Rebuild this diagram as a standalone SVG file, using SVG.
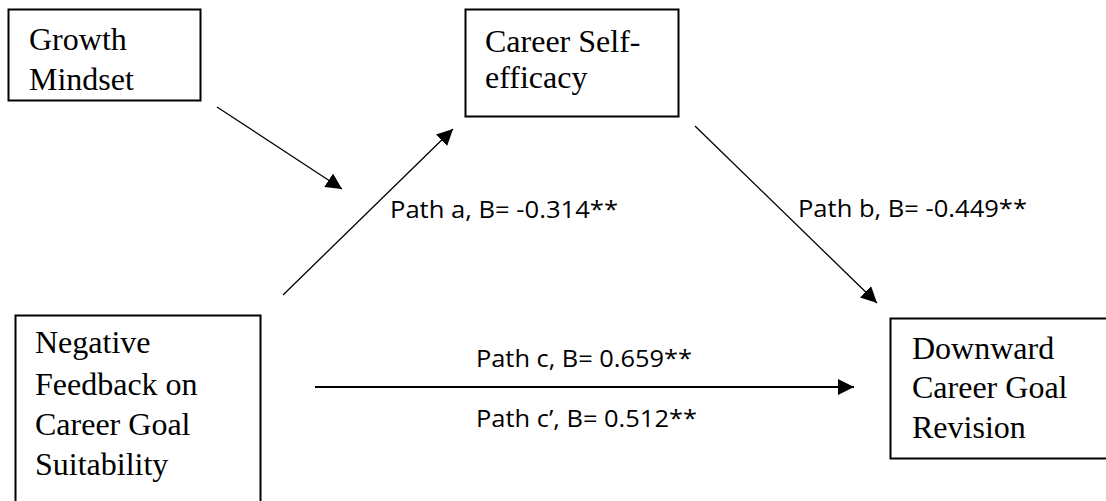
<svg xmlns="http://www.w3.org/2000/svg" width="1106" height="501" viewBox="0 0 1106 501">
<defs>
<style>
.box{fill:#fff;stroke:#000;stroke-width:2}
.t{font-family:"Liberation Serif","Times New Roman",serif;font-size:32px;fill:#000}
.l{font-family:"Open Sans","Noto Sans",sans-serif;font-size:23.5px;fill:#000}
.c{stroke:#000;stroke-width:1.3;fill:none;marker-end:url(#ah)}
</style>
<marker id="ah" viewBox="0 0 10 10" refX="10" refY="5" markerWidth="16" markerHeight="16" markerUnits="userSpaceOnUse" orient="auto">
<path d="M0,0 L10,5 L0,10 z" fill="#000"/>
</marker>
</defs>
<rect width="1106" height="501" fill="#fff"/>
<g id="growth">
<rect class="box" x="8.5" y="9.5" width="192" height="91"/>
<text class="t" x="29" y="50">Growth</text>
<text class="t" x="29" y="90">Mindset</text>
</g>
<g id="selfeff">
<rect class="box" x="465.5" y="9.5" width="213" height="107"/>
<text class="t" x="485" y="52">Career Self-</text>
<text class="t" x="485" y="88">efficacy</text>
</g>
<g id="negfeedback">
<rect class="box" x="15.5" y="315.5" width="245" height="200"/>
<text class="t" x="35" y="353">Negative</text>
<text class="t" x="35" y="395">Feedback on</text>
<text class="t" x="35" y="435">Career Goal</text>
<text class="t" x="35" y="475">Suitability</text>
</g>
<g id="downward">
<rect class="box" x="890.5" y="318.5" width="230" height="140"/>
<text class="t" x="912" y="359">Downward</text>
<text class="t" x="912" y="398">Career Goal</text>
<text class="t" x="912" y="438">Revision</text>
</g>
<g id="connectors">
<line class="c" x1="217" y1="107" x2="342" y2="189"/>
<line class="c" x1="283" y1="295" x2="453" y2="129"/>
<line class="c" x1="695" y1="126" x2="877" y2="303"/>
<line class="c" x1="315" y1="387" x2="854" y2="387" style="stroke-width:1.8"/>
</g>
<g id="labels">
<text class="l" x="390" y="218" textLength="228" lengthAdjust="spacingAndGlyphs">Path a, B= -0.314**</text>
<text class="l" x="798" y="217" textLength="229" lengthAdjust="spacingAndGlyphs">Path b, B= -0.449**</text>
<text class="l" x="476" y="367" textLength="216" lengthAdjust="spacingAndGlyphs">Path c, B= 0.659**</text>
<text class="l" x="476" y="427" textLength="221" lengthAdjust="spacingAndGlyphs">Path c’, B= 0.512**</text>
</g>
</svg>
